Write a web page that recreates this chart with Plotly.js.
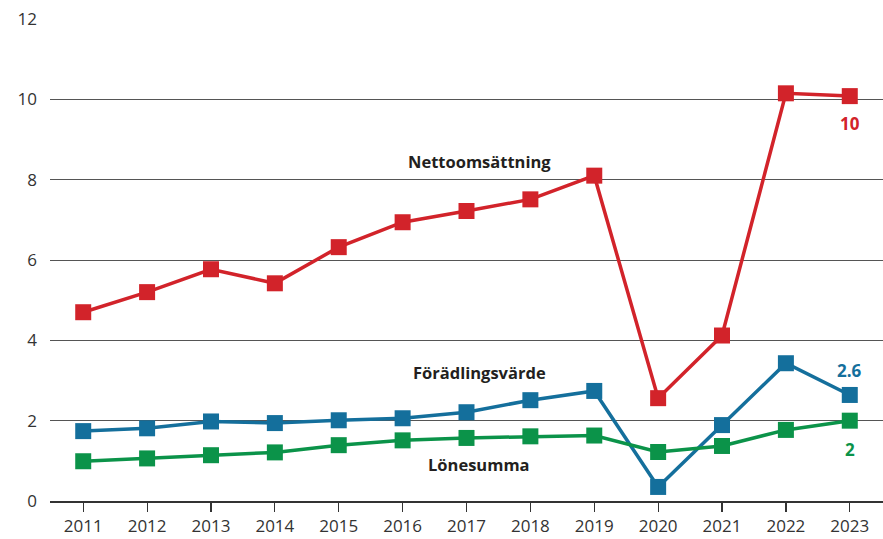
<!DOCTYPE html>
<html>
<head>
<meta charset="utf-8">
<script src="https://cdn.plot.ly/plotly-3.0.1.min.js"></script>
<style>
html,body{margin:0;padding:0;background:#fff;}
#chart{width:883px;height:539px;}
</style>
</head>
<body>
<div id="chart"></div>
<script>
const years = [2011,2012,2013,2014,2015,2016,2017,2018,2019,2020,2021,2022,2023];
const nettoomsattning = [4.70,5.20,5.77,5.42,6.32,6.94,7.22,7.51,8.10,2.56,4.12,10.15,10.08];
const foradlingsvarde = [1.74,1.81,1.98,1.94,2.01,2.06,2.21,2.51,2.74,0.35,1.89,3.43,2.64];
const lonesumma = [0.99,1.06,1.14,1.21,1.39,1.51,1.57,1.61,1.63,1.22,1.37,1.77,2.00];
const yTicks = [0,2,4,6,8,10,12];

const RED = '#d2232a', BLUE = '#146f9c', GREEN = '#0b9349';

function series(y, color, name){
    return {x:years, y:y, name:name, type:'scatter', mode:'lines+markers',
        line:{color:color, width:3.5},
        marker:{symbol:'square', size:16, color:color},
        cliponaxis:false, hoverinfo:'x+y'};
}

const traces = [
    series(nettoomsattning, RED, 'Nettoomsättning'),
    series(foradlingsvarde, BLUE, 'Förädlingsvärde'),
    series(lonesumma, GREEN, 'Lönesumma')
];

const labelFont = {family:'Open Sans, Noto Sans, sans-serif', size:16.5, color:'#231f20', weight:'bold'};
const annotations = [
    {x:2017.2, y:8.45, text:'Nettoomsättning', font:labelFont},
    {x:2017.2, y:3.2, text:'Förädlingsvärde', font:labelFont},
    {x:2017.2, y:0.9, text:'Lönesumma', font:labelFont},
    {x:2023, y:9.4, text:'10', font:Object.assign({}, labelFont, {color:RED, size:17})},
    {x:2023, y:3.25, text:'2.6', font:Object.assign({}, labelFont, {color:BLUE, size:17})},
    {x:2023, y:1.28, text:'2', font:Object.assign({}, labelFont, {color:GREEN, size:17})}
].map(a=>Object.assign({xref:'x', yref:'y', showarrow:false}, a));

const layout = {
    width:883, height:539,
    margin:{l:50, r:0, t:19, b:38},
    paper_bgcolor:'#fff', plot_bgcolor:'#fff',
    showlegend:false,
    font:{family:'Open Sans, Noto Sans, sans-serif', size:17, color:'#333'},
    xaxis:{range:[2010.48, 2023.52], tickvals:years, ticktext:years.map(String),
        showgrid:false, zeroline:false, showline:true, linecolor:'#333', linewidth:1.5,
        ticks:'outside', ticklen:9, tickcolor:'#333', tickwidth:1.2,
        tickfont:{size:17, color:'#333'}, fixedrange:true},
    yaxis:{range:[0,12], tickvals:yTicks, ticktext:yTicks.map(String),
        showgrid:true, gridcolor:'#555', gridwidth:1, zeroline:false, showline:false,
        ticks:'', ticklabelstandoff:12,
        tickfont:{size:17, color:'#333'}, fixedrange:true},
    annotations:annotations
};

Plotly.newPlot('chart', traces, layout, {displayModeBar:false, staticPlot:true});
</script>
</body>
</html>
